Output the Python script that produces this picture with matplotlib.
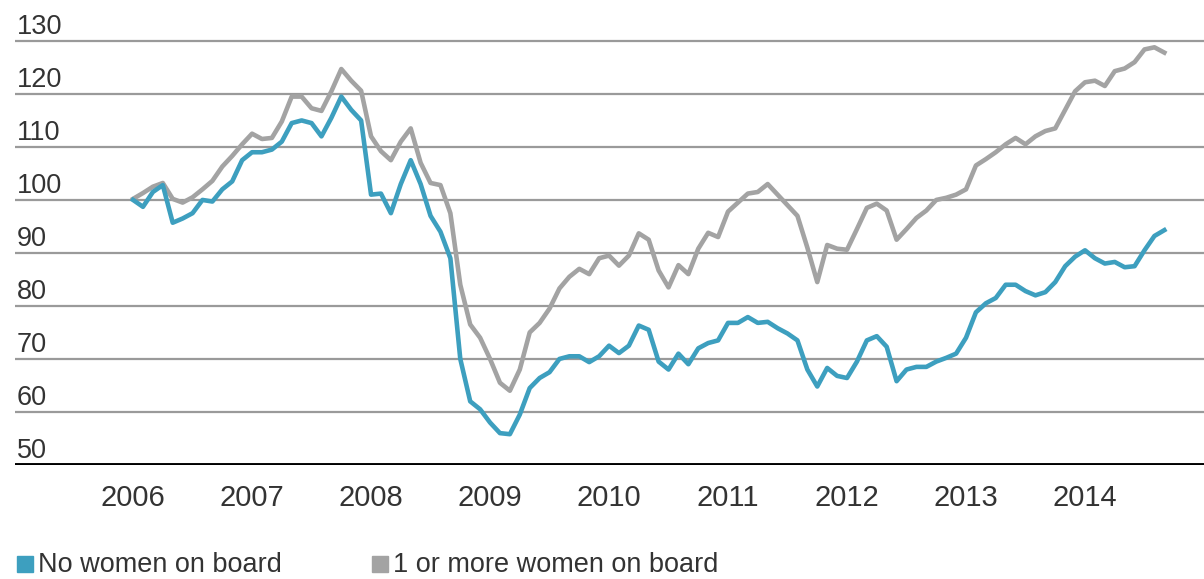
import numpy as np
import matplotlib
matplotlib.use("Agg")
import matplotlib.pyplot as plt
from matplotlib.lines import Line2D
from matplotlib.transforms import blended_transform_factory, offset_copy

plt.rcParams['font.family'] = ['Liberation Sans', 'DejaVu Sans']

# monthly index values, Jan 2006 .. Sep 2014
no_women = [
    100, 98.7, 101.5, 102.8, 95.7, 96.5, 97.5, 100, 99.7, 102, 103.5, 107.5,
    109, 109, 109.5, 111, 114.5, 115, 114.5, 112, 115.5, 119.5, 117, 115,
    101, 101.2, 97.5, 103, 107.5, 103, 97, 94, 89, 70, 62, 60.5,
    58, 56, 55.8, 59.5, 64.5, 66.4, 67.5, 70, 70.5, 70.5, 69.4, 70.5,
    72.5, 71.1, 72.5, 76.3, 75.5, 69.5, 68, 71, 69, 72, 73, 73.5,
    76.8, 76.8, 77.9, 76.8, 77, 75.8, 74.8, 73.5, 68, 64.8, 68.3, 66.8,
    66.4, 69.5, 73.5, 74.3, 72.3, 65.8, 68, 68.5, 68.5, 69.5, 70.2, 71,
    74, 78.8, 80.5, 81.5, 84, 84, 82.8, 82, 82.6, 84.5, 87.5, 89.3,
    90.5, 89, 88, 88.3, 87.3, 87.5, 90.5, 93.2, 94.3,
]
with_women = [
    100.2, 101.3, 102.5, 103.2, 100.2, 99.5, 100.5, 102, 103.6, 106.3, 108.3, 110.5,
    112.5, 111.5, 111.7, 114.8, 119.5, 119.5, 117.3, 116.8, 120.5, 124.7, 122.5, 120.6,
    112, 109.2, 107.5, 111, 113.5, 107, 103.2, 102.8, 97.5, 84, 76.5, 74,
    70, 65.5, 64, 68, 75, 76.8, 79.5, 83.3, 85.5, 87, 86, 89,
    89.5, 87.6, 89.5, 93.7, 92.5, 86.7, 83.5, 87.7, 86, 90.8, 93.8, 93,
    97.8, 99.5, 101.2, 101.5, 103, 101, 99, 97, 91, 84.5, 91.5, 90.8,
    90.6, 94.5, 98.5, 99.3, 98, 92.5, 94.5, 96.6, 98, 100, 100.4, 101,
    102, 106.5, 107.7, 109, 110.5, 111.7, 110.5, 112, 113, 113.5, 117, 120.5,
    122.2, 122.5, 121.5, 124.3, 124.8, 126, 128.4, 128.8, 127.8,
]
years = ['2006', '2007', '2008', '2009', '2010', '2011', '2012', '2013', '2014']
y_ticks = [50, 60, 70, 80, 90, 100, 110, 120, 130]
labels = ['No women on board', '1 or more women on board']

blue = '#3d9fbf'
grey = '#a3a3a3'
txt = '#333333'

months = np.arange(len(no_women))

fig = plt.figure(figsize=(12.04, 5.79), dpi=100)
ax = fig.add_axes([0.0125, 0.197, 0.9875, 0.7506])

for v in y_ticks[1:]:
    ax.axhline(v, color='#9a9a9a', lw=1.6, zorder=1)
ax.axhline(50, color='black', lw=2.8, zorder=3)

ax.plot(months, with_women, color=grey, lw=3.3, zorder=2, solid_joinstyle='round')
ax.plot(months, no_women, color=blue, lw=3.3, zorder=2, solid_joinstyle='round')

ax.set_xlim(-11.9, 108.0)
ax.set_ylim(50, 132)
for s in ax.spines.values():
    s.set_visible(False)
ax.set_yticks([])
ax.set_xticks(np.arange(len(years)) * 12)
ax.set_xticklabels(years, fontsize=21, color=txt)
ax.tick_params(axis='x', length=0, pad=14)

trans = offset_copy(blended_transform_factory(ax.transAxes, ax.transData),
                    fig=fig, x=0, y=5, units='points')
for v in y_ticks:
    ax.text(0.0015, v, str(v), transform=trans, fontsize=19.5, color=txt,
            ha='left', va='baseline')

# legend drawn by hand: square marker + label
leg_y = 1 - 563.5 / 579
for xm, xt, lab, col in [(24.5 / 1204, 38 / 1204, labels[0], blue),
                         (380 / 1204, 393 / 1204, labels[1], grey)]:
    fig.add_artist(Line2D([xm], [leg_y], marker='s', ms=12, color=col, ls='none',
                          transform=fig.transFigure))
    fig.text(xt, 1 - 572 / 579, lab, fontsize=19.5, color=txt, ha='left', va='baseline')

fig.savefig('out.png', dpi=100)
